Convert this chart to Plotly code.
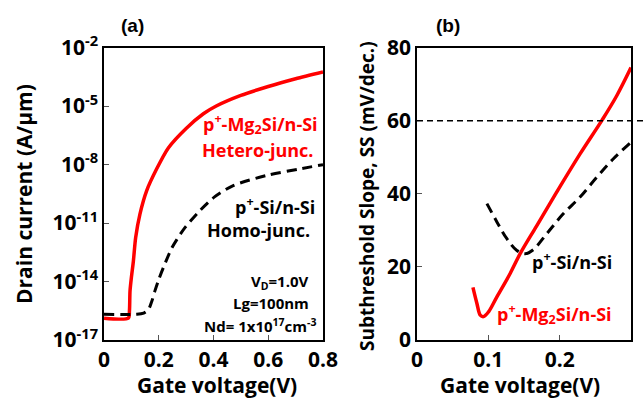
import plotly.graph_objects as go

# ---------------- data ----------------
# Panel (a): drain current vs gate voltage
vg_hetero = [0.0, 0.089, 0.093, 0.095, 0.100, 0.107, 0.1157, 0.1315, 0.156, 0.1925,
             0.235, 0.30, 0.363, 0.41, 0.50, 0.60, 0.70, 0.80]
id_hetero = [1.32e-16, 1.32e-16, 3.2e-16, 3.2e-15, 1.6e-14, 1.0e-13, 1.8e-12, 2.95e-11,
             4.6e-10, 6.0e-9, 7.1e-8, 7.1e-7, 4.0e-6, 1.0e-5, 3.5e-5, 1.0e-4, 2.5e-4,
             5.6e-4]

vg_homo = [0.0, 0.12, 0.145, 0.162, 0.175, 0.186, 0.20, 0.217, 0.247, 0.266, 0.295,
           0.351, 0.405, 0.472, 0.594, 0.716, 0.80]
id_homo = [2.09e-16, 2.09e-16, 2.4e-16, 3.55e-16, 1.0e-15, 3.3e-15, 1.26e-14, 5.2e-14,
           5.0e-13, 1.41e-12, 5.6e-12, 4.4e-11, 2.24e-10, 8.3e-10, 2.75e-9, 6.0e-9,
           9.8e-9]

# Panel (b): subthreshold slope vs gate voltage
vg_ss_hetero = [0.0784, 0.084, 0.0887, 0.0933, 0.1003, 0.112, 0.1306, 0.1446, 0.168,
                0.196, 0.2286, 0.259, 0.28, 0.30]
ss_hetero = [14.4, 10.0, 6.8, 6.4, 7.7, 11.8, 18.2, 23.6, 31.3, 40.5, 50.9, 60.0, 66.8, 74.5]

vg_ss_homo = [0.098, 0.112, 0.126, 0.14, 0.1517, 0.163, 0.182, 0.205, 0.2286, 0.252,
              0.275, 0.30]
ss_homo = [37.3, 32.3, 27.7, 24.5, 23.6, 24.7, 29.1, 34.5, 39.1, 44.5, 49.5, 54.1]

ss_ref = 60

xa_ticks = [0, 0.2, 0.4, 0.6, 0.8]
xa_text = ["0", "0.2", "0.4", "0.6", "0.8"]
ya_ticks = [1e-17, 1e-14, 1e-11, 1e-8, 1e-5, 1e-2]
ya_text = ["10<sup>-17</sup>", "10<sup>-14</sup>", "10<sup>-11</sup>",
           "10<sup>-8</sup>", "10<sup>-5</sup>", "10<sup>-2</sup>"]
xb_ticks = [0, 0.1, 0.2, 0.3]
xb_text = ["0", "0.1", "0.2", "0.3"]
yb_ticks = [0, 20, 40, 60, 80]

# ---------------- figure ----------------
W, H = 643, 400
FONT = "Open Sans"
RED = "#ff0000"

def px(x):
    return x / W

def py(y):
    return 1 - y / H

fig = go.Figure()

fig.add_trace(go.Scatter(x=vg_hetero, y=id_hetero, mode="lines",
                         line=dict(color=RED, width=3.5, shape="spline", smoothing=0.7),
                         xaxis="x", yaxis="y", showlegend=False, hoverinfo="skip"))
fig.add_trace(go.Scatter(x=vg_homo, y=id_homo, mode="lines",
                         line=dict(color="black", width=3, dash="10px,6px",
                                   shape="spline", smoothing=0.8),
                         xaxis="x", yaxis="y", showlegend=False, hoverinfo="skip"))
fig.add_trace(go.Scatter(x=vg_ss_hetero, y=ss_hetero, mode="lines",
                         line=dict(color=RED, width=3.5, shape="spline"),
                         xaxis="x2", yaxis="y2", showlegend=False, hoverinfo="skip"))
fig.add_trace(go.Scatter(x=vg_ss_homo, y=ss_homo, mode="lines",
                         line=dict(color="black", width=3, dash="10px,6px", shape="spline"),
                         xaxis="x2", yaxis="y2", showlegend=False, hoverinfo="skip"))

tickfont = dict(family=FONT, size=21, color="black", weight="bold")
axis_common = dict(showgrid=False, zeroline=False, showline=True, linecolor="black",
                   linewidth=1.5, mirror=True, ticks="inside", ticklen=5,
                   tickcolor="#555555", tickwidth=1, tickfont=tickfont,
                   automargin=False)

ydom = [py(340), py(47.5)]
fig.update_layout(
    width=W, height=H,
    margin=dict(l=0, r=0, t=0, b=0, autoexpand=False),
    paper_bgcolor="white", plot_bgcolor="white",
    xaxis=dict(domain=[px(104), px(323)], range=[0, 0.8], tickvals=xa_ticks,
               ticktext=xa_text, anchor="y", **axis_common),
    yaxis=dict(domain=ydom, type="log", range=[-17, -2], tickvals=ya_ticks,
               ticktext=ya_text, anchor="x", **axis_common),
    xaxis2=dict(domain=[px(417), px(631)], range=[0, 0.3], tickvals=xb_ticks,
                ticktext=xb_text, anchor="y2", **axis_common),
    yaxis2=dict(domain=ydom, range=[0, 80], tickvals=yb_ticks, anchor="x2",
                **axis_common),
)

# 60 mV/dec reference line (extends beyond plot to the right edge)
fig.add_shape(type="line", xref="paper", yref="y2", x0=px(417), x1=1.0,
              y0=ss_ref, y1=ss_ref, line=dict(color="black", width=1.5, dash="6px,4px"))

def ann(text, x, y, size, color="black", xanchor="center", family=FONT, angle=0):
    fig.add_annotation(text=text, x=px(x), y=py(y), xref="paper", yref="paper",
                       xanchor=xanchor, yanchor="middle", showarrow=False,
                       textangle=angle,
                       font=dict(family=family, size=size, color=color, weight="bold"))

ann("(a)", 132, 25, 19, family="Liberation Sans")
ann("(b)", 448, 25, 19, family="Liberation Sans")

ann("Drain current (A/µm)", 24, 194, 21, angle=-90)
ann("Subthreshold Slope, SS (mV/dec.)", 367, 196, 19, angle=-90)
ann("Gate voltage(V)", 217, 385, 21)
ann("Gate voltage(V)", 520, 385, 21)

ann("p<sup>+</sup>-Mg<sub>2</sub>Si/n-Si", 320, 124, 18, color=RED, xanchor="right")
ann("Hetero-junc.", 316, 150, 18, color=RED, xanchor="right")
ann("p<sup>+</sup>-Si/n-Si", 317, 206, 18, xanchor="right")
ann("Homo-junc.", 312, 230, 18, xanchor="right")
ann("V<sub>D</sub>=1.0V", 311, 282, 15, xanchor="right")
ann("Lg=100nm", 311, 303, 15, xanchor="right")
ann("Nd= 1x10<sup>17</sup>cm<sup>-3</sup>", 318, 325, 15, xanchor="right")

ann("p<sup>+</sup>-Si/n-Si", 530, 261, 18, xanchor="left")
ann("p<sup>+</sup>-Mg<sub>2</sub>Si/n-Si", 495, 314, 18, color=RED, xanchor="left")

fig.write_html("out.html", config={"displayModeBar": False},
               post_script="document.body.style.margin='0';")
